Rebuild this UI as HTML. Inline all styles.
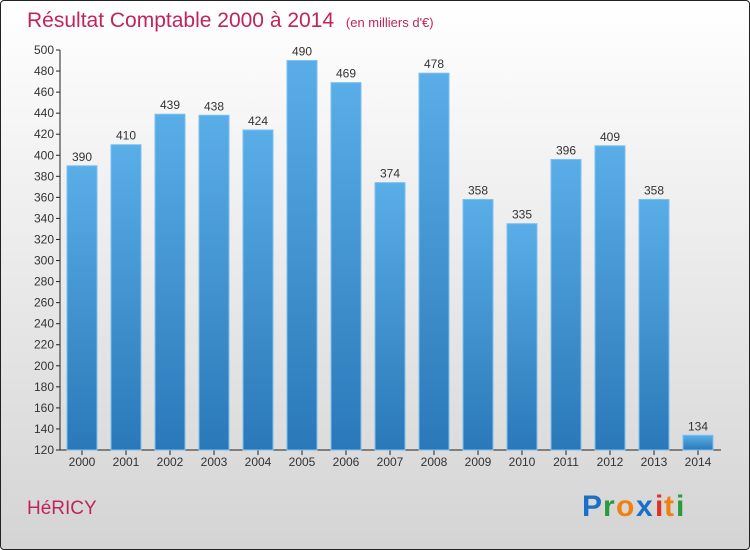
<!DOCTYPE html>
<html><head><meta charset="utf-8"><style>
body{margin:0;width:750px;height:550px;overflow:hidden;font-family:"Liberation Sans",sans-serif}
#wrap{position:absolute;left:0;top:0;width:748px;height:548px;border:1px solid #222;border-radius:4px;background:linear-gradient(#ffffff,#d4d4d4)}
</style></head><body>
<div id="wrap">
<svg width="750" height="550" style="position:absolute;left:-1px;top:-1px" id="chart">
<defs><linearGradient id="bg" x1="0" y1="0" x2="0" y2="1"><stop offset="0" stop-color="#5aaee8"/><stop offset="1" stop-color="#2a78b8"/></linearGradient></defs>
<text x="27" y="27" font-size="21" fill="#c0245c">Résultat Comptable 2000 à 2014 <tspan font-size="13" dx="6">(en milliers d'€)</tspan></text>
<text x="27" y="514" font-size="19" fill="#c0245c">HéRICY</text>
<g font-size="30" font-family="Liberation Sans, sans-serif" font-weight="bold">
<text x="582" y="516" fill="#1a6fc8">P</text><text x="603" y="516" fill="#2a9a3a">r</text><text x="616" y="516" fill="#f08010">o</text><text x="636" y="516" fill="#1a6fc8">x</text><text x="655" y="516" fill="#e03020">i</text><text x="664" y="516" fill="#f08010">t</text><text x="676" y="516" fill="#2a9a3a">i</text>
</g>
<g id="axes"></g><g id="bars"></g>
</svg></div>
<script>
const categories=["2000","2001","2002","2003","2004","2005","2006","2007","2008","2009","2010","2011","2012","2013","2014"];
const values=[390,410,439,438,424,490,469,374,478,358,335,396,409,358,134];
const yTicks=[120,140,160,180,200,220,240,260,280,300,320,340,360,380,400,420,440,460,480,500];
const ns="http://www.w3.org/2000/svg";
const y=v=>450-(v-120)*400/380;
const x=i=>82+i*44;
const ax=document.getElementById('axes'),bs=document.getElementById('bars');
function mk(tag,at,parent,txt){const e=document.createElementNS(ns,tag);for(const k in at)e.setAttribute(k,at[k]);if(txt!=null)e.textContent=txt;parent.appendChild(e);return e;}
let e=mk('line',{x1:60,y1:50,x2:60,y2:450,stroke:'#222'},ax);


e=mk('line',{x1:60,y1:450,x2:721,y2:450,stroke:'#222'},ax);


yTicks.forEach(t=>{
 mk('line',{x1:56,y1:y(t),x2:60,y2:y(t),stroke:'#222'},ax);
 e=mk('text',{x:54,y:y(t)+4,'font-size':12,fill:'#333','text-anchor':'end'},ax,t);
 
 
});
categories.forEach((c,i)=>{
 mk('line',{x1:x(i),y1:450,x2:x(i),y2:455,stroke:'#222'},ax);
 e=mk('text',{x:x(i),y:466,'font-size':12,fill:'#333','text-anchor':'middle'},ax,c);
 
 
 e=mk('rect',{x:x(i)-15,y:y(values[i]),width:30,height:450-y(values[i]),fill:'url(#bg)',stroke:'#7cc0f0','stroke-width':1},bs);
 
 
 e=mk('text',{x:x(i),y:y(values[i])-5,'font-size':12,fill:'#333','text-anchor':'middle'},bs,values[i]);
 
 
});
</script>
</body></html>
